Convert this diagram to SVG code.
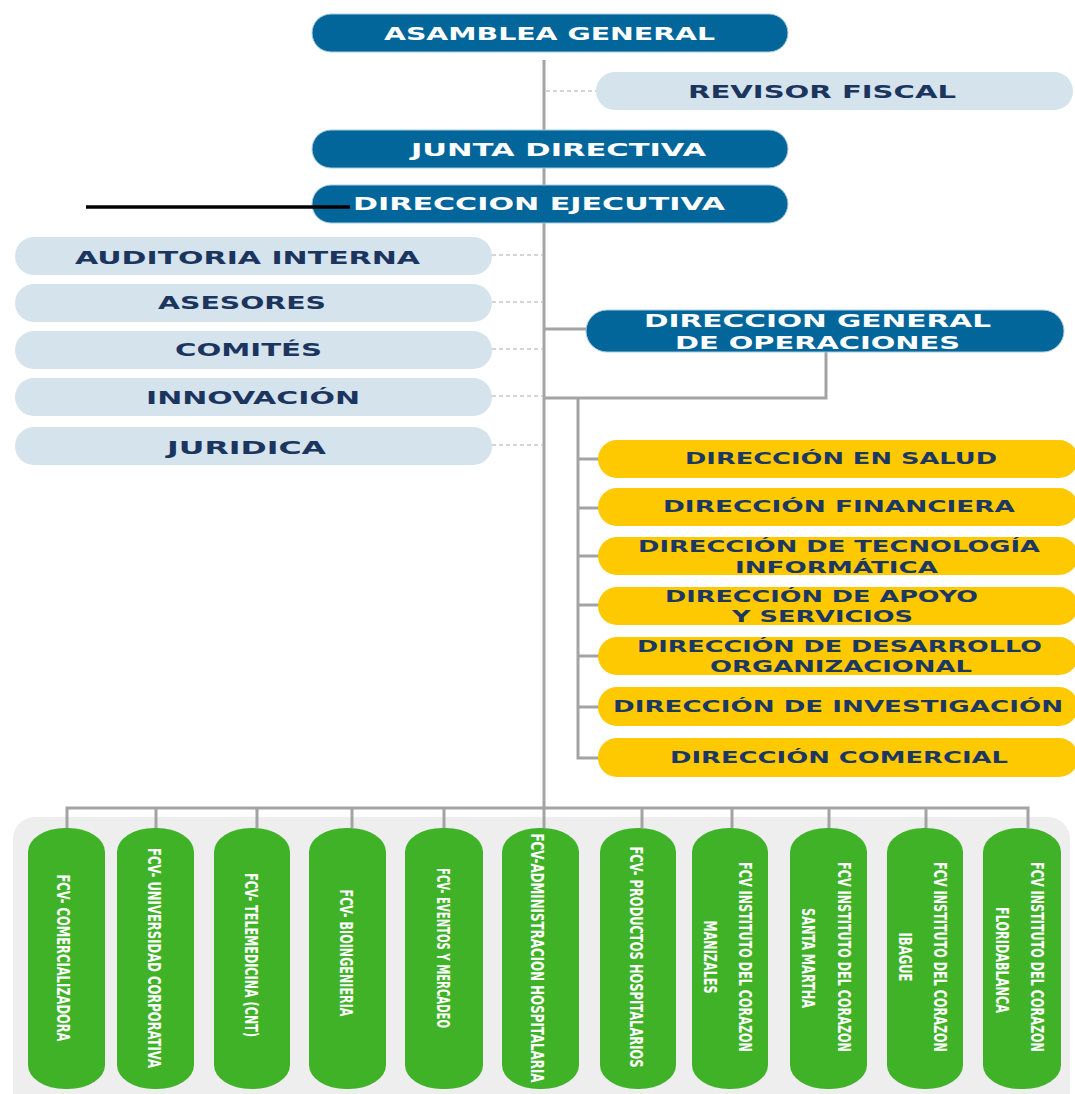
<svg xmlns="http://www.w3.org/2000/svg" width="1075" height="1094" viewBox="0 0 1075 1094">
<style>
.dk{fill:#03669a;stroke:#a9cbe0;stroke-width:1}
.lt{fill:#d5e3ec}
.yl{fill:#ffc900}
.gr{fill:#40b227}
.tw{font-family:"DejaVu Sans",Verdana,sans-serif;font-weight:bold;font-size:17px;fill:#ffffff}
.tn{font-family:"DejaVu Sans",Verdana,sans-serif;font-weight:bold;font-size:17px;fill:#1b355f}
.ty{font-family:"DejaVu Sans",Verdana,sans-serif;font-weight:bold;font-size:15.5px;fill:#1c3862}
.tg{font-family:"DejaVu Sans Condensed","DejaVu Sans",sans-serif;font-weight:bold;font-size:18px;fill:#ffffff}
.ln{stroke:#a3a3a3;stroke-width:3;fill:none}
.dt{stroke:#c8c8c8;stroke-width:1.5;stroke-dasharray:4 3;fill:none}
</style>
<rect x="13" y="817" width="1057" height="300" rx="22" fill="#eeeeee"/>
<g id="connectors">
<line class="ln" x1="544" y1="60" x2="544" y2="809"/>
<line class="dt" x1="546" y1="91" x2="596" y2="91"/>
<line class="dt" x1="492" y1="255" x2="543" y2="255"/>
<line class="dt" x1="492" y1="302" x2="543" y2="302"/>
<line class="dt" x1="492" y1="349" x2="543" y2="349"/>
<line class="dt" x1="492" y1="396" x2="543" y2="396"/>
<line class="dt" x1="492" y1="445" x2="543" y2="445"/>
<line class="ln" x1="544" y1="329" x2="587" y2="329"/>
<polyline class="ln" points="826,352 826,398 544,398"/>
<polyline class="ln" points="578,398 578,758 600,758"/>
<line class="ln" x1="578" y1="459" x2="600" y2="459"/>
<line class="ln" x1="578" y1="508" x2="600" y2="508"/>
<line class="ln" x1="578" y1="556" x2="600" y2="556"/>
<line class="ln" x1="578" y1="605" x2="600" y2="605"/>
<line class="ln" x1="578" y1="656" x2="600" y2="656"/>
<line class="ln" x1="578" y1="707" x2="600" y2="707"/>
<polyline class="ln" points="67,828 67,808 1028,808 1028,828"/>
<line class="ln" x1="156" y1="808" x2="156" y2="828"/>
<line class="ln" x1="257" y1="808" x2="257" y2="828"/>
<line class="ln" x1="352" y1="808" x2="352" y2="828"/>
<line class="ln" x1="444" y1="808" x2="444" y2="828"/>
<line class="ln" x1="544" y1="808" x2="544" y2="828"/>
<line class="ln" x1="642" y1="808" x2="642" y2="828"/>
<line class="ln" x1="732" y1="808" x2="732" y2="828"/>
<line class="ln" x1="829" y1="808" x2="829" y2="828"/>
<line class="ln" x1="926" y1="808" x2="926" y2="828"/>
</g>
<g id="asamblea"><rect class="dk" x="312" y="14" width="476" height="38" rx="19"/><text class="tw" x="384" y="39.5" textLength="331" lengthAdjust="spacingAndGlyphs">ASAMBLEA GENERAL</text></g>
<g id="revisor"><rect class="lt" x="596" y="72" width="477" height="38" rx="19"/><text class="tn" x="688" y="98" textLength="268" lengthAdjust="spacingAndGlyphs">REVISOR FISCAL</text></g>
<g id="junta"><rect class="dk" x="312" y="130" width="476" height="38" rx="19"/><text class="tw" x="411" y="156" textLength="295" lengthAdjust="spacingAndGlyphs">JUNTA DIRECTIVA</text></g>
<g id="ejecutiva"><rect class="dk" x="312" y="185" width="476" height="38" rx="19"/><text class="tw" x="353" y="210" textLength="372" lengthAdjust="spacingAndGlyphs">DIRECCION EJECUTIVA</text></g>
<line x1="86" y1="207" x2="350" y2="207" stroke="#000000" stroke-width="3.5"/>
<g id="auditoria"><rect class="lt" x="15" y="237" width="477" height="38" rx="19"/><text class="tn" x="75" y="264" textLength="345" lengthAdjust="spacingAndGlyphs">AUDITORIA INTERNA</text></g>
<g id="asesores"><rect class="lt" x="15" y="284" width="477" height="38" rx="19"/><text class="tn" x="158" y="309" textLength="168" lengthAdjust="spacingAndGlyphs">ASESORES</text></g>
<g id="comites"><rect class="lt" x="15" y="331" width="477" height="38" rx="19"/><text class="tn" x="175" y="356" textLength="147" lengthAdjust="spacingAndGlyphs">COMITÉS</text></g>
<g id="innovacion"><rect class="lt" x="15" y="378" width="477" height="38" rx="19"/><text class="tn" x="146" y="404" textLength="214" lengthAdjust="spacingAndGlyphs">INNOVACIÓN</text></g>
<g id="juridica"><rect class="lt" x="15" y="427" width="477" height="38" rx="19"/><text class="tn" x="167" y="454" textLength="159" lengthAdjust="spacingAndGlyphs">JURIDICA</text></g>
<g id="operaciones"><rect class="dk" x="586" y="310" width="478" height="42" rx="21"/><text class="tw" x="644" y="327" textLength="347" lengthAdjust="spacingAndGlyphs">DIRECCION GENERAL</text><text class="tw" x="675" y="349" textLength="285" lengthAdjust="spacingAndGlyphs">DE OPERACIONES</text></g>
<g id="salud"><rect class="yl" x="598" y="440" width="480" height="38" rx="19"/><text class="ty" x="685" y="464" textLength="312" lengthAdjust="spacingAndGlyphs">DIRECCIÓN EN SALUD</text></g>
<g id="financiera"><rect class="yl" x="598" y="488" width="480" height="38" rx="19"/><text class="ty" x="663" y="512" textLength="352" lengthAdjust="spacingAndGlyphs">DIRECCIÓN FINANCIERA</text></g>
<g id="tecnologia"><rect class="yl" x="598" y="537" width="480" height="38" rx="19"/><text class="ty" x="638" y="552" textLength="402" lengthAdjust="spacingAndGlyphs">DIRECCIÓN DE TECNOLOGÍA</text><text class="ty" x="735" y="573" textLength="203" lengthAdjust="spacingAndGlyphs">INFORMÁTICA</text></g>
<g id="apoyo"><rect class="yl" x="598" y="587" width="480" height="38" rx="19"/><text class="ty" x="665" y="602" textLength="313" lengthAdjust="spacingAndGlyphs">DIRECCIÓN DE APOYO</text><text class="ty" x="732" y="622" textLength="181" lengthAdjust="spacingAndGlyphs">Y SERVICIOS</text></g>
<g id="desarrollo"><rect class="yl" x="598" y="637" width="480" height="38" rx="19"/><text class="ty" x="637" y="652" textLength="405" lengthAdjust="spacingAndGlyphs">DIRECCIÓN DE DESARROLLO</text><text class="ty" x="710" y="672" textLength="262" lengthAdjust="spacingAndGlyphs">ORGANIZACIONAL</text></g>
<g id="investigacion"><rect class="yl" x="598" y="687" width="480" height="39" rx="19"/><text class="ty" x="613" y="712" textLength="450" lengthAdjust="spacingAndGlyphs">DIRECCIÓN DE INVESTIGACIÓN</text></g>
<g id="comercial"><rect class="yl" x="598" y="738" width="480" height="39" rx="19"/><text class="ty" x="670" y="763" textLength="338" lengthAdjust="spacingAndGlyphs">DIRECCIÓN COMERCIAL</text></g>
<g id="comercializadora"><rect class="gr" x="28" y="828" width="77" height="261" rx="37" ry="24"/><text class="tg" transform="translate(63,958) rotate(90)" x="0" y="6.5" text-anchor="middle" textLength="167" lengthAdjust="spacingAndGlyphs">FCV- COMERCIALIZADORA</text></g>
<g id="universidad"><rect class="gr" x="117" y="828" width="77" height="261" rx="37" ry="24"/><text class="tg" transform="translate(154,958) rotate(90)" x="0" y="6.5" text-anchor="middle" textLength="220" lengthAdjust="spacingAndGlyphs">FCV- UNIVERSIDAD CORPORATIVA</text></g>
<g id="telemedicina"><rect class="gr" x="214" y="828" width="76" height="261" rx="37" ry="24"/><text class="tg" transform="translate(251,955) rotate(90)" x="0" y="6.5" text-anchor="middle" textLength="164" lengthAdjust="spacingAndGlyphs">FCV- TELEMEDICINA (CNT)</text></g>
<g id="bioingenieria"><rect class="gr" x="309" y="828" width="77" height="261" rx="37" ry="24"/><text class="tg" transform="translate(346,953) rotate(90)" x="0" y="6.5" text-anchor="middle" textLength="127" lengthAdjust="spacingAndGlyphs">FCV- BIOINGENIERIA</text></g>
<g id="eventos"><rect class="gr" x="405" y="828" width="78" height="261" rx="37" ry="24"/><text class="tg" transform="translate(443,948) rotate(90)" x="0" y="6.5" text-anchor="middle" textLength="160" lengthAdjust="spacingAndGlyphs">FCV- EVENTOS Y MERCADEO</text></g>
<g id="administracion"><rect class="gr" x="502" y="828" width="77" height="261" rx="37" ry="24"/><text class="tg" transform="translate(537,958) rotate(90)" x="0" y="6.5" text-anchor="middle" textLength="249" lengthAdjust="spacingAndGlyphs">FCV-ADMINISTRACION HOSPITALARIA</text></g>
<g id="productos"><rect class="gr" x="600" y="828" width="76" height="261" rx="37" ry="24"/><text class="tg" transform="translate(636,957) rotate(90)" x="0" y="6.5" text-anchor="middle" textLength="221" lengthAdjust="spacingAndGlyphs">FCV- PRODUCTOS HOSPITALARIOS</text></g>
<g id="manizales"><rect class="gr" x="692" y="828" width="76" height="261" rx="37" ry="24"/><text class="tg" transform="translate(745,957) rotate(90)" x="0" y="6.5" text-anchor="middle" textLength="190" lengthAdjust="spacingAndGlyphs">FCV INSTITUTO DEL CORAZON</text><text class="tg" transform="translate(710,957) rotate(90)" x="0" y="6.5" text-anchor="middle" textLength="73" lengthAdjust="spacingAndGlyphs">MANIZALES</text></g>
<g id="santamartha"><rect class="gr" x="790" y="828" width="77" height="261" rx="37" ry="24"/><text class="tg" transform="translate(844,957) rotate(90)" x="0" y="6.5" text-anchor="middle" textLength="190" lengthAdjust="spacingAndGlyphs">FCV INSTITUTO DEL CORAZON</text><text class="tg" transform="translate(808,958) rotate(90)" x="0" y="6.5" text-anchor="middle" textLength="100" lengthAdjust="spacingAndGlyphs">SANTA MARTHA</text></g>
<g id="ibague"><rect class="gr" x="887" y="828" width="76" height="261" rx="37" ry="24"/><text class="tg" transform="translate(940,957) rotate(90)" x="0" y="6.5" text-anchor="middle" textLength="190" lengthAdjust="spacingAndGlyphs">FCV INSTITUTO DEL CORAZON</text><text class="tg" transform="translate(905,957) rotate(90)" x="0" y="6.5" text-anchor="middle" textLength="49" lengthAdjust="spacingAndGlyphs">IBAGUE</text></g>
<g id="floridablanca"><rect class="gr" x="983" y="828" width="78" height="261" rx="37" ry="24"/><text class="tg" transform="translate(1037,957) rotate(90)" x="0" y="6.5" text-anchor="middle" textLength="190" lengthAdjust="spacingAndGlyphs">FCV INSTITUTO DEL CORAZON</text><text class="tg" transform="translate(1002,960) rotate(90)" x="0" y="6.5" text-anchor="middle" textLength="106" lengthAdjust="spacingAndGlyphs">FLORIDABLANCA</text></g>
</svg>
